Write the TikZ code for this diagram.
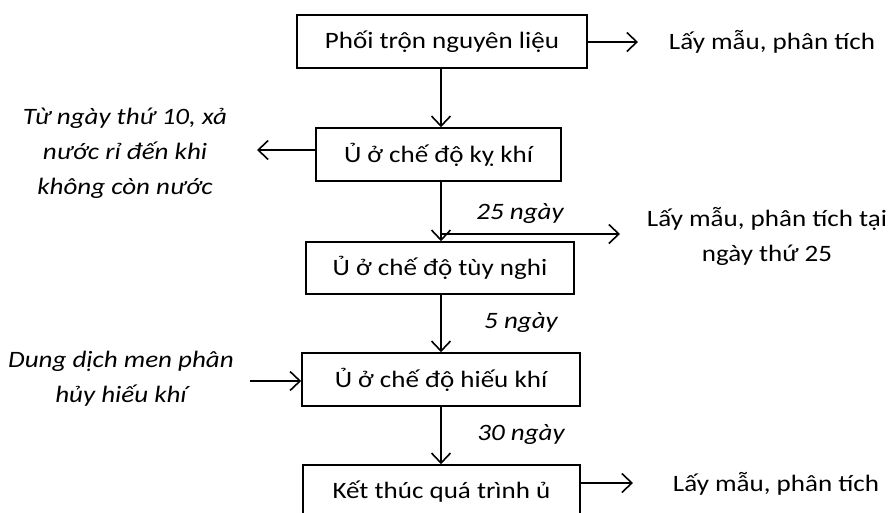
\documentclass[tikz,border=0pt]{standalone}
\usepackage{fontspec}
\setmainfont{Carlito}[FakeStretch=1.15]
\usetikzlibrary{arrows.meta}
\newcommand\bodysize{\fontsize{23.5}{35}\selectfont}
\tikzset{
  stepbox/.style={draw, line width=1.6pt, inner sep=0pt, anchor=center, font=\bodysize},
  flow/.style={line width=1.6pt, -{Straight Barb[length=10pt,width=19pt,line width=1.6pt]}},
  lbl/.style={inner sep=0pt, align=center, anchor=center, font=\bodysize},
  note/.style={inner sep=0pt, align=center, anchor=center, font=\bodysize\itshape},
}
\begin{document}
\begin{tikzpicture}[x=1pt,y=-1pt]
\clip (0,0) rectangle (888,512);
\useasboundingbox (0,0) rectangle (888,512);
% boxes
\node[stepbox, minimum width=290pt, minimum height=53pt] (b1) at (442,41.5) {Phối trộn nguyên liệu};
\node[stepbox, minimum width=245pt, minimum height=53pt] (b2) at (438.5,154.5) {Ủ ở chế độ kỵ khí};
\node[stepbox, minimum width=268pt, minimum height=52pt] (b3) at (440,268) {Ủ ở chế độ tùy nghi};
\node[stepbox, minimum width=278pt, minimum height=53pt] (b4) at (441,379.5) {Ủ ở chế độ hiếu khí};
\node[stepbox, minimum width=277pt, minimum height=53pt] (b5) at (441.5,491.5) {Kết thúc quá trình ủ};
% side texts
\node[lbl] (t1) at (772,42) {Lấy mẫu, phân tích};
\node[note] (t2) at (125,153) {Từ ngày thứ 10, xả\\nước rỉ đến khi\\không còn nước};
\node[lbl] (t3) at (767,236) {Lấy mẫu, phân tích tại\\ngày thứ 25};
\node[note] (t4) at (121,379) {Dung dịch men phân\\hủy hiếu khí};
\node[lbl] (t5) at (776,484) {Lấy mẫu, phân tích};
% day labels
\node[note] (d25) at (520,213) {25 ngày};
\node[note] (d5) at (521,322) {5 ngày};
\node[note] (d30) at (521,434) {30 ngày};
% helper coordinates
\coordinate (sp) at (441,0);
\coordinate (e1) at (638,42);
\coordinate (e2) at (257,150);
\coordinate (j) at (441,234);
\coordinate (e3) at (620,234);
\coordinate (s4) at (250,381);
\coordinate (e5) at (633,483);
% connectors
\draw[flow] (b1.south -| sp) -- (b2.north -| sp);
\draw[flow] (b2.south -| sp) -- (b3.north -| sp);
\draw[flow] (b3.south -| sp) -- (b4.north -| sp);
\draw[flow] (b4.south -| sp) -- (b5.north -| sp);
\draw[flow] (b1.east |- e1) -- (e1);
\draw[flow] (b2.west |- e2) -- (e2);
\draw[flow] (j) -- (e3);
\draw[flow] (s4) -- (b4.west |- s4);
\draw[flow] (b5.east |- e5) -- (e5);
\end{tikzpicture}
\end{document}
